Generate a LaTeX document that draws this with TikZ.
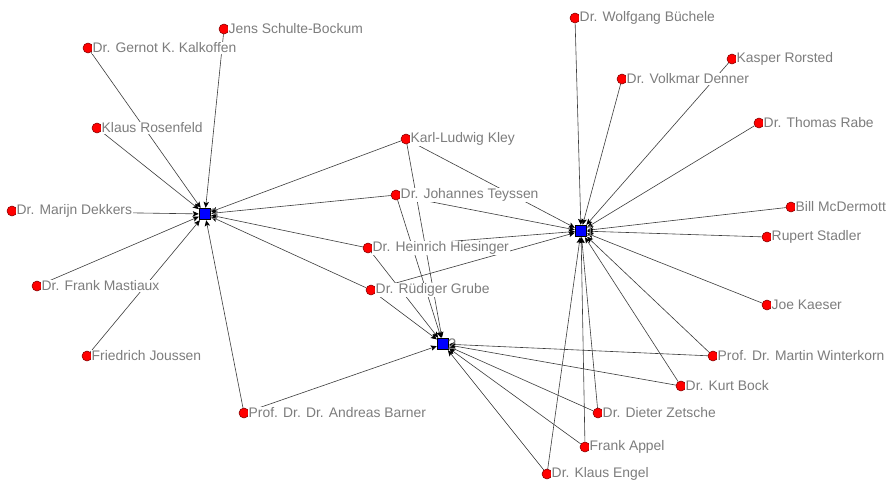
\documentclass[tikz,border=0pt]{standalone}
\usepackage{fontspec}
\setmainfont{Liberation Sans}
\usetikzlibrary{arrows.meta}
\pgfdeclarelayer{bg}
\pgfdeclarelayer{edges}
\pgfsetlayers{bg,edges,main}
\definecolor{lbl}{RGB}{125,125,125}
\definecolor{edge}{RGB}{60,60,60}
\tikzset{
  person/.style={circle,fill=red,draw=red!50!black,line width=0.4pt,inner sep=0pt,minimum size=7.5pt},
  group/.style={rectangle,fill=blue,draw=black,line width=0.4pt,inner sep=0pt,minimum size=8.5pt},
  lab/.style={text=lbl,font=\fontsize{10.4}{12}\selectfont,inner sep=0.6pt,fill=white},
  glab/.style={text=lbl,font=\fontsize{11.5}{13}\selectfont,inner sep=0.5pt},
  link/.style={draw=edge,line width=0.45pt,-{Stealth[length=4.5pt,width=4pt,inset=1pt,black,fill=black]},shorten >=0.2pt}
}
\newcommand{\pers}[4]{\node[person,label={[lab,anchor=west,xshift=-1.2pt]east:#4}] (#1) at (#2,#3) {};}
\begin{document}
\begin{tikzpicture}[x=0.75pt,y=-0.75pt]
\useasboundingbox (0,0) rectangle (892,482);
\begin{pgfonlayer}{bg}
\fill[white] (0,0) rectangle (892,482);
\end{pgfonlayer}
% groups
\node[group,label={[glab,anchor=west,xshift=-1.5pt]east:3}] (g3) at (205,214) {};
\node[group,label={[glab,anchor=west,xshift=-1.5pt]east:1}] (g1) at (581,231) {};
\node[group,label={[glab,anchor=west,xshift=-1.5pt]east:2}] (g2) at (443,344) {};
% persons
\pers{jsb}{224}{29}{Jens Schulte-Bockum}
\pers{kalk}{88}{48}{Dr. Gernot K. Kalkoffen}
\pers{rosen}{97}{128}{Klaus Rosenfeld}
\pers{dekk}{12}{211}{Dr. Marijn Dekkers}
\pers{mast}{37}{286}{Dr. Frank Mastiaux}
\pers{jous}{87}{356}{Friedrich Joussen}
\pers{barn}{244}{413}{Prof. Dr. Dr. Andreas Barner}
\pers{kley}{406}{139}{Karl-Ludwig Kley}
\pers{teys}{396}{195}{Dr. Johannes Teyssen}
\pers{hies}{368}{248}{Dr. Heinrich Hiesinger}
\pers{grube}{371}{290}{Dr. Rüdiger Grube}
\pers{buech}{575}{18}{Dr. Wolfgang Büchele}
\pers{rors}{732}{59}{Kasper Rorsted}
\pers{denn}{622}{79}{Dr. Volkmar Denner}
\pers{rabe}{759}{123}{Dr. Thomas Rabe}
\pers{mcd}{791}{207}{Bill McDermott}
\pers{stad}{767}{237}{Rupert Stadler}
\pers{kaes}{767}{305}{Joe Kaeser}
\pers{wint}{713}{356}{Prof. Dr. Martin Winterkorn}
\pers{bock}{681}{386}{Dr. Kurt Bock}
\pers{zets}{598}{413}{Dr. Dieter Zetsche}
\pers{appel}{585}{447}{Frank Appel}
\pers{engel}{547}{474}{Dr. Klaus Engel}
\begin{pgfonlayer}{edges}
% links to 3
\foreach \p in {jsb,kalk,rosen,dekk,mast,jous,barn,kley,teys,hies,grube}
  \draw[link] (\p) -- (g3);
% links to 1
\foreach \p in {buech,rors,denn,rabe,mcd,stad,kaes,wint,bock,zets,appel,engel,kley,teys,hies,grube}
  \draw[link] (\p) -- (g1);
% links to 2
\foreach \p in {kley,teys,hies,grube,barn,wint,bock,zets,appel,engel}
  \draw[link] (\p) -- (g2);
\end{pgfonlayer}
\end{tikzpicture}
\end{document}
